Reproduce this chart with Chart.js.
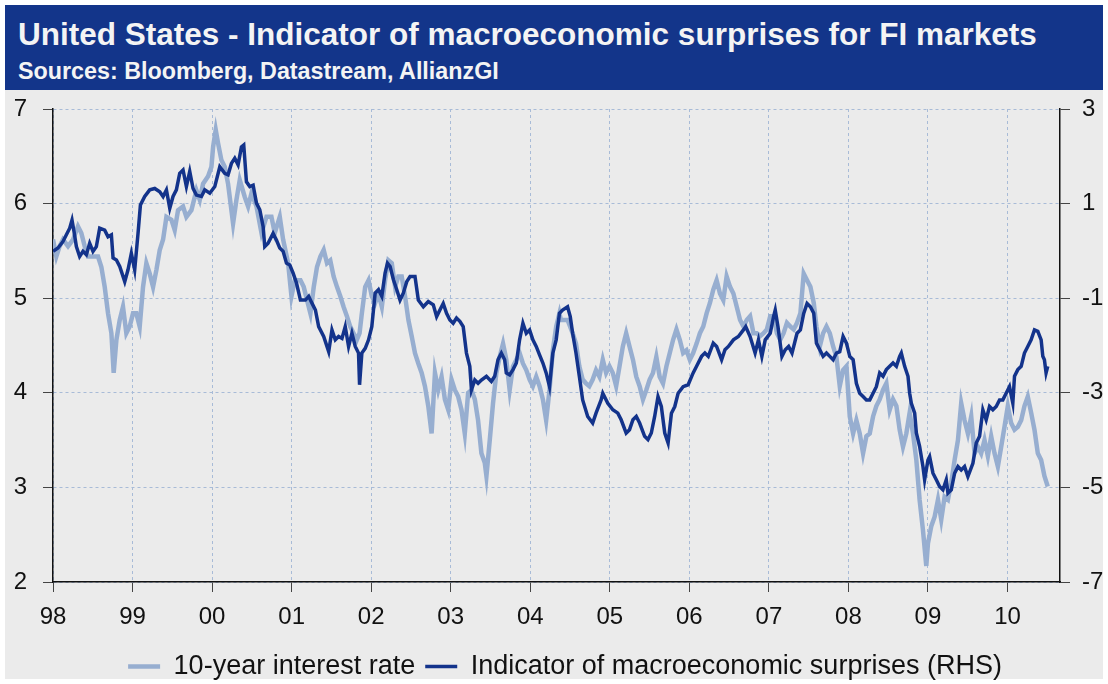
<!DOCTYPE html>
<html>
<head>
<meta charset="utf-8">
<script src="https://cdn.jsdelivr.net/npm/chart.js@4.4.0/dist/chart.umd.min.js"></script>
<style>
  html, body { margin: 0; padding: 0; background: #fff; width: 1108px; height: 684px; overflow: hidden; }
  #page { position: absolute; left: 5px; top: 5px; width: 1098px; height: 674px; background: #ebebeb; }
  #banner { position: absolute; left: 5px; top: 5px; width: 1098px; height: 85px; background: #13358a; color: #f4f4f4;
            font-family: "Liberation Sans", Arial, sans-serif; font-weight: bold; }
  #title { position: absolute; left: 13px; top: 11px; font-size: 31.5px; line-height: 36px; white-space: nowrap; }
  #sub { position: absolute; left: 13px; top: 53px; font-size: 23.3px; line-height: 27px; white-space: nowrap; }
  #box { position: absolute; left: 0; top: 90px; width: 1108px; height: 600px; }
</style>
</head>
<body>
<div id="page"></div>
<div id="banner">
  <div id="title">United States - Indicator of macroeconomic surprises for FI markets</div>
  <div id="sub">Sources: Bloomberg, Datastream, AllianzGI</div>
</div>
<div id="box"><canvas id="chart"></canvas></div>
<script>
// axis ticks
const yearTicks = [1998, 1999, 2000, 2001, 2002, 2003, 2004, 2005, 2006, 2007, 2008, 2009, 2010];
const leftTicks = [2, 3, 4, 5, 6, 7];
const rightTicks = [-7, -5, -3, -1, 1, 3];

// 10-year interest rate (LHS), dates as decimal years
const rateDates = [
  1998.000, 1998.042, 1998.084, 1998.126, 1998.189, 1998.252, 1998.314, 1998.356, 1998.398, 1998.440,
  1998.503, 1998.566, 1998.608, 1998.650, 1998.692, 1998.734, 1998.763, 1998.797, 1998.839, 1998.880,
  1998.922, 1998.964, 1999.006, 1999.048, 1999.090, 1999.132, 1999.174, 1999.216, 1999.258, 1999.300,
  1999.342, 1999.384, 1999.426, 1999.488, 1999.530, 1999.572, 1999.635, 1999.677, 1999.740, 1999.803,
  1999.845, 1999.887, 1999.950, 1999.992, 2000.013, 2000.046, 2000.075, 2000.117, 2000.159, 2000.201,
  2000.264, 2000.306, 2000.348, 2000.411, 2000.453, 2000.495, 2000.558, 2000.621, 2000.684, 2000.746,
  2000.788, 2000.851, 2000.893, 2000.956, 2000.998, 2001.040,
  2001.111, 2001.152, 2001.194, 2001.236, 2001.278, 2001.319, 2001.361, 2001.403, 2001.445, 2001.486,
  2001.528, 2001.570, 2001.612, 2001.653, 2001.695, 2001.737, 2001.779, 2001.820, 2001.854, 2001.883,
  2001.925, 2001.967, 2002.008, 2002.050, 2002.092, 2002.134, 2002.175, 2002.217, 2002.259, 2002.301,
  2002.342, 2002.384, 2002.426, 2002.468, 2002.509, 2002.551, 2002.593, 2002.635, 2002.676, 2002.718,
  2002.760, 2002.802, 2002.843, 2002.885, 2002.927, 2002.969, 2003.010, 2003.052, 2003.094, 2003.136,
  2003.177, 2003.219, 2003.261, 2003.303, 2003.344, 2003.386, 2003.428, 2003.449, 2003.491, 2003.532,
  2003.574, 2003.616, 2003.658, 2003.699, 2003.741, 2003.783, 2003.825, 2003.866, 2003.908, 2003.950,
  2003.992, 2004.033, 2004.075, 2004.117, 2004.159, 2004.200, 2004.242, 2004.284, 2004.326, 2004.367,
  2004.385, 2004.469, 2004.533, 2004.575, 2004.617, 2004.659, 2004.701, 2004.743, 2004.785, 2004.827,
  2004.869, 2004.912, 2004.954, 2004.996, 2005.038, 2005.080, 2005.122, 2005.164, 2005.206, 2005.248,
  2005.291, 2005.333, 2005.375, 2005.417, 2005.459, 2005.501, 2005.543, 2005.585, 2005.627, 2005.669,
  2005.712, 2005.754, 2005.796, 2005.838, 2005.880, 2005.922, 2005.964, 2006.006, 2006.048, 2006.091,
  2006.133, 2006.175, 2006.217, 2006.259, 2006.301, 2006.343, 2006.385, 2006.427, 2006.469, 2006.512,
  2006.554, 2006.596, 2006.638, 2006.680, 2006.722, 2006.764, 2006.806, 2006.848, 2006.891, 2006.933,
  2006.975, 2007.017, 2007.059, 2007.101, 2007.143, 2007.185, 2007.227, 2007.270, 2007.312, 2007.354,
  2007.396, 2007.438, 2007.480, 2007.522, 2007.564,
  2007.598, 2007.640, 2007.682, 2007.724, 2007.766, 2007.808, 2007.849, 2007.891, 2007.933, 2007.975,
  2008.017, 2008.059, 2008.100, 2008.142, 2008.184, 2008.226, 2008.268, 2008.310, 2008.351, 2008.393,
  2008.435, 2008.477, 2008.519, 2008.561, 2008.603, 2008.644, 2008.686, 2008.728, 2008.770, 2008.812,
  2008.854, 2008.895, 2008.937, 2008.979, 2009.000, 2009.042, 2009.084, 2009.126, 2009.167, 2009.209,
  2009.251, 2009.293, 2009.335, 2009.377, 2009.418, 2009.460, 2009.502, 2009.544, 2009.586, 2009.628,
  2009.669, 2009.711, 2009.753, 2009.795, 2009.837, 2009.879, 2009.921, 2009.962, 2010.004, 2010.046,
  2010.088, 2010.130, 2010.172, 2010.213, 2010.255, 2010.297, 2010.339, 2010.381, 2010.423, 2010.464,
  2010.506
];
const rateValues = [
  5.62, 5.44, 5.55, 5.62, 5.55, 5.62, 5.76, 5.69, 5.55, 5.44,
  5.44, 5.44, 5.33, 5.12, 4.84, 4.63, 4.21, 4.56, 4.77, 4.91,
  4.63, 4.70, 4.84, 4.84, 4.70, 5.12, 5.37, 5.26, 5.12, 5.30,
  5.51, 5.62, 5.86, 5.83, 5.72, 5.93, 5.97, 5.86, 5.93, 6.14,
  6.04, 6.21, 6.29, 6.39, 6.60, 6.78, 6.64, 6.46, 6.39, 6.21,
  5.79, 6.04, 6.25, 6.07, 5.97, 6.11, 5.97, 5.69, 5.86, 5.86,
  5.69, 5.86, 5.62, 5.37, 5.02, 5.19,
  5.19, 5.12, 4.98, 4.84, 5.12, 5.33, 5.44, 5.51, 5.37, 5.40,
  5.23, 5.12, 5.02, 4.91, 4.81, 4.70, 4.63, 4.56, 4.63, 4.84,
  5.12, 5.19, 5.02, 4.95, 5.05, 4.91, 5.19, 5.40, 5.37, 5.12,
  5.23, 5.23, 5.02, 4.77, 4.60, 4.42, 4.31, 4.21, 4.07, 3.86,
  3.57, 4.21, 4.03, 4.17, 3.93, 3.82, 4.14, 4.03, 3.96, 3.82,
  3.57, 4.00, 4.03, 3.93, 3.71, 3.36, 3.26, 3.12, 3.50, 3.89,
  4.21, 4.38, 4.52, 4.35, 4.03, 4.28, 4.35, 4.42, 4.31, 4.24,
  4.14, 4.07, 4.17, 4.07, 3.93, 3.71, 4.03, 4.45, 4.70, 4.84,
  4.77, 4.77, 4.63, 4.52, 4.28, 4.14, 4.10, 4.07, 4.14, 4.24,
  4.17, 4.35, 4.21, 4.28, 4.21, 4.07, 4.28, 4.49, 4.63, 4.49,
  4.35, 4.17, 4.07, 3.93, 4.03, 4.14, 4.21, 4.38, 4.17, 4.10,
  4.28, 4.42, 4.56, 4.67, 4.56, 4.42, 4.45, 4.35, 4.42, 4.52,
  4.63, 4.70, 4.84, 4.95, 5.09, 5.19, 5.05, 4.98, 5.23, 5.12,
  5.05, 4.91, 4.77, 4.70, 4.77, 4.81, 4.63, 4.63, 4.60, 4.63,
  4.67, 4.81, 4.81, 4.63, 4.56, 4.63, 4.74, 4.70, 4.67, 4.74,
  4.84, 5.26, 5.19, 5.12, 4.95,
  4.70, 4.49, 4.63, 4.70, 4.63, 4.49, 4.38, 4.07, 4.24, 4.28,
  3.75, 3.57, 3.71, 3.57, 3.36, 3.54, 3.57, 3.75, 3.86, 3.93,
  4.03, 4.10, 3.82, 3.93, 3.86, 3.61, 3.43, 3.57, 3.79, 3.57,
  3.29, 2.87, 2.55, 2.17, 2.41, 2.59, 2.69, 2.87, 2.66, 2.90,
  2.87, 3.05, 3.29, 3.50, 3.89, 3.71, 3.57, 3.75, 3.36, 3.43,
  3.36, 3.50, 3.33, 3.54, 3.36, 3.22, 3.43, 3.64, 3.86, 3.68,
  3.61, 3.64, 3.71, 3.86, 3.96, 3.79, 3.61, 3.36, 3.29, 3.12,
  3.01
];

// Indicator of macroeconomic surprises (RHS)
const surpriseDates = [
  1998.000, 1998.063, 1998.126, 1998.168, 1998.210, 1998.239, 1998.264, 1998.294, 1998.335, 1998.377,
  1998.419, 1998.461, 1998.503, 1998.545, 1998.587, 1998.650, 1998.692, 1998.734, 1998.755, 1998.797,
  1998.839, 1998.902, 1998.943, 1998.985, 1999.027, 1999.069, 1999.099, 1999.153, 1999.216, 1999.279,
  1999.342, 1999.384, 1999.426, 1999.468, 1999.509, 1999.551, 1999.593, 1999.635, 1999.677, 1999.719,
  1999.761, 1999.803, 1999.866, 1999.908, 1999.971, 2000.034, 2000.097, 2000.159, 2000.201, 2000.243,
  2000.285, 2000.327, 2000.369, 2000.398, 2000.432, 2000.474, 2000.516, 2000.558, 2000.600, 2000.642,
  2000.662, 2000.704, 2000.767, 2000.809, 2000.851, 2000.893, 2000.935, 2000.977, 2001.019, 2001.061,
  2001.111, 2001.173, 2001.215, 2001.257, 2001.299, 2001.340, 2001.403, 2001.466, 2001.507, 2001.549,
  2001.591, 2001.633, 2001.674, 2001.716, 2001.758, 2001.800, 2001.841, 2001.854, 2001.883, 2001.925,
  2001.967, 2002.008, 2002.050, 2002.092, 2002.134, 2002.175, 2002.205, 2002.238, 2002.280, 2002.322,
  2002.363, 2002.405, 2002.447, 2002.489, 2002.551, 2002.593, 2002.656, 2002.718, 2002.781, 2002.823,
  2002.864, 2002.906, 2002.948, 2002.990, 2003.031, 2003.073, 2003.115, 2003.157, 2003.198, 2003.240,
  2003.261, 2003.303, 2003.344, 2003.386, 2003.449, 2003.511, 2003.553, 2003.595, 2003.637, 2003.678,
  2003.699, 2003.741, 2003.783, 2003.825, 2003.866, 2003.908, 2003.950, 2003.992, 2004.033, 2004.075,
  2004.117, 2004.159, 2004.200, 2004.242, 2004.284, 2004.326, 2004.367,
  2004.406, 2004.469, 2004.503, 2004.533, 2004.575, 2004.617, 2004.659, 2004.722, 2004.785, 2004.827,
  2004.891, 2004.912, 2004.975, 2005.038, 2005.101, 2005.143, 2005.206, 2005.248, 2005.291, 2005.333,
  2005.375, 2005.438, 2005.480, 2005.522, 2005.564, 2005.606, 2005.648, 2005.691, 2005.733, 2005.775,
  2005.817, 2005.859, 2005.922, 2005.985, 2006.048, 2006.091, 2006.154, 2006.196, 2006.238, 2006.301,
  2006.343, 2006.406, 2006.448, 2006.491, 2006.554, 2006.617, 2006.680, 2006.709, 2006.764, 2006.827,
  2006.869, 2006.912, 2006.954, 2007.017, 2007.059, 2007.080, 2007.114, 2007.164, 2007.206, 2007.248,
  2007.291, 2007.354, 2007.396, 2007.438, 2007.480, 2007.522, 2007.564,
  2007.598, 2007.640, 2007.682, 2007.724, 2007.766, 2007.808, 2007.849, 2007.891, 2007.933, 2007.975,
  2008.017, 2008.059, 2008.100, 2008.142, 2008.184, 2008.226, 2008.268, 2008.310, 2008.351, 2008.393,
  2008.435, 2008.477, 2008.519, 2008.561, 2008.603, 2008.644, 2008.665, 2008.707, 2008.749, 2008.770,
  2008.791, 2008.833, 2008.854, 2008.895, 2008.937, 2008.958, 2009.000, 2009.021, 2009.063, 2009.105,
  2009.146, 2009.188, 2009.230, 2009.251, 2009.293, 2009.335, 2009.377, 2009.418, 2009.460, 2009.502,
  2009.565, 2009.607, 2009.649, 2009.690, 2009.732, 2009.774, 2009.816, 2009.858, 2009.900, 2009.941,
  2009.983, 2010.025, 2010.067, 2010.088, 2010.130, 2010.172, 2010.213, 2010.255, 2010.297, 2010.339,
  2010.381, 2010.423, 2010.444, 2010.464, 2010.485, 2010.506
];
const surpriseValues = [
  -0.01, 0.06, 0.20, 0.34, 0.48, 0.65, 0.41, 0.09, -0.12, -0.01,
  -0.08, 0.16, -0.01, 0.09, 0.48, 0.44, 0.30, 0.34, -0.15, -0.19,
  -0.33, -0.65, -0.40, -0.05, -0.40, 0.37, 0.97, 1.15, 1.29, 1.32,
  1.25, 1.15, 1.29, 0.90, 1.15, 1.29, 1.64, 1.71, 1.36, 1.68,
  1.32, 1.18, 1.15, 1.29, 1.22, 1.36, 1.78, 1.64, 1.61, 1.85,
  1.96, 1.82, 2.20, 2.24, 1.46, 1.36, 1.39, 1.01, 0.87, 0.51,
  0.09, 0.16, 0.37, 0.23, 0.06, -0.01, -0.26, -0.30, -0.47, -0.68,
  -1.04, -1.04, -0.96, -1.11, -1.25, -1.60, -1.81, -2.13, -1.67, -1.88,
  -1.81, -1.85, -1.60, -2.02, -1.74, -2.02, -2.16, -2.83, -2.16, -2.06,
  -1.88, -1.60, -0.89, -0.82, -0.96, -0.47, -0.26, -0.33, -0.61, -0.82,
  -1.04, -0.89, -0.65, -0.54, -0.54, -1.04, -1.18, -1.07, -1.14, -1.39,
  -1.25, -1.11, -1.32, -1.46, -1.53, -1.42, -1.49, -1.60, -2.16, -2.44,
  -2.94, -2.73, -2.80, -2.73, -2.65, -2.76, -2.65, -2.30, -2.16, -2.30,
  -2.58, -2.62, -2.51, -2.37, -1.88, -1.53, -1.74, -1.67, -1.88, -2.02,
  -2.20, -2.37, -2.58, -2.87, -2.16, -1.88, -1.32,
  -1.25, -1.18, -1.39, -1.74, -2.16, -2.65, -3.15, -3.50, -3.64, -3.43,
  -3.15, -3.01, -3.22, -3.36, -3.43, -3.57, -3.85, -3.78, -3.57, -3.50,
  -3.64, -3.92, -3.99, -3.85, -3.50, -3.08, -3.29, -3.85, -4.06, -3.43,
  -3.29, -3.01, -2.87, -2.83, -2.58, -2.44, -2.23, -2.16, -2.23, -1.95,
  -2.02, -2.30, -2.09, -2.02, -1.88, -1.81, -1.67, -1.60, -1.81, -2.16,
  -1.88, -2.23, -1.88, -1.74, -1.39, -1.25, -1.60, -2.23, -2.09, -2.02,
  -2.16, -1.74, -1.67, -1.32, -1.11, -1.18, -1.32,
  -1.95, -2.09, -2.23, -2.16, -2.23, -2.30, -2.16, -2.13, -1.81, -1.95,
  -2.23, -2.30, -2.80, -3.01, -3.08, -3.15, -3.15, -3.01, -2.87, -2.58,
  -2.65, -2.51, -2.44, -2.37, -2.44, -2.23, -2.16, -2.44, -2.65, -3.01,
  -3.22, -3.43, -3.85, -4.13, -4.56, -4.84, -4.42, -4.35, -4.70, -4.84,
  -4.98, -5.05, -4.84, -5.12, -5.05, -4.70, -4.56, -4.63, -4.56, -4.77,
  -4.49, -4.06, -3.92, -3.36, -3.57, -3.29, -3.36, -3.29, -3.15, -3.15,
  -3.01, -2.87, -3.22, -2.65, -2.51, -2.44, -2.16, -2.02, -1.88, -1.67,
  -1.70, -1.88, -2.23, -2.30, -2.58, -2.44
];

const FONT = "'Liberation Sans', Arial, sans-serif";
const gridColor = '#a8bbd7';

const toPoints = (dates, values) => dates.map((d, i) => ({ x: d, y: values[i] }));

// fix the vertical axes' size so the plot area lands where the reference has it
const fitVertical = width => s => {
  s.width = width;
  s.paddingTop = 0;
  s.paddingBottom = 0;
};

const config = {
  type: 'line',
  data: {
    datasets: [{
      label: '10-year interest rate',
      data: toPoints(rateDates, rateValues),
      yAxisID: 'y',
      borderColor: '#97aed0',
      backgroundColor: '#97aed0',
      borderWidth: 4.5,
      pointRadius: 0,
      tension: 0,
      order: 2
    }, {
      label: 'Indicator of macroeconomic surprises (RHS)',
      data: toPoints(surpriseDates, surpriseValues),
      yAxisID: 'y2',
      borderColor: '#13338b',
      backgroundColor: '#13338b',
      borderWidth: 3.5,
      pointRadius: 0,
      tension: 0,
      order: 1
    }]
  },
  options: {
    responsive: true,
    maintainAspectRatio: false,
    animation: false,
    // negative right padding nudges the centred legend to where the reference has it
    layout: { padding: { top: 19, left: 0, right: -22, bottom: 0 } },
    plugins: {
      tooltip: { enabled: false },
      legend: {
        position: 'bottom',
        labels: {
          usePointStyle: true,
          pointStyle: 'line',
          pointStyleWidth: 32,
          padding: 10,
          color: '#111',
          font: { family: FONT, size: 27 },
          sort: (a, b) => a.datasetIndex - b.datasetIndex
        }
      }
    },
    scales: {
      x: {
        type: 'linear',
        min: 1998,
        max: 2010.66,
        afterBuildTicks: s => { s.ticks = yearTicks.map(v => ({ value: v })); },
        afterFit: s => { s.height = 61; },
        grid: { color: gridColor, tickColor: '#444', tickLength: 10, drawOnChartArea: true },
        border: { color: '#111', width: 1.5, dash: [3, 3] },
        ticks: {
          color: '#111',
          padding: 11,
          maxRotation: 0,
          font: { family: FONT, size: 24 },
          callback: v => String(v % 100).padStart(2, '0')
        }
      },
      y: {
        position: 'left',
        min: 2,
        max: 7,
        afterBuildTicks: s => { s.ticks = leftTicks.map(v => ({ value: v })); },
        afterFit: fitVertical(53),
        grid: { color: gridColor, tickColor: '#444', tickLength: 10 },
        border: { color: '#111', width: 1.5, dash: [3, 3] },
        ticks: { color: '#111', padding: 16, font: { family: FONT, size: 24 } }
      },
      y2: {
        position: 'right',
        min: -7,
        max: 3,
        afterBuildTicks: s => { s.ticks = rightTicks.map(v => ({ value: v })); },
        afterFit: fitVertical(70),
        grid: { drawOnChartArea: false, tickColor: '#444', tickLength: 10 },
        border: { color: '#111', width: 1.5 },
        ticks: { color: '#111', padding: 12, font: { family: FONT, size: 24 } }
      }
    }
  }
};

new Chart(document.getElementById('chart').getContext('2d'), config);
</script>
</body>
</html>
